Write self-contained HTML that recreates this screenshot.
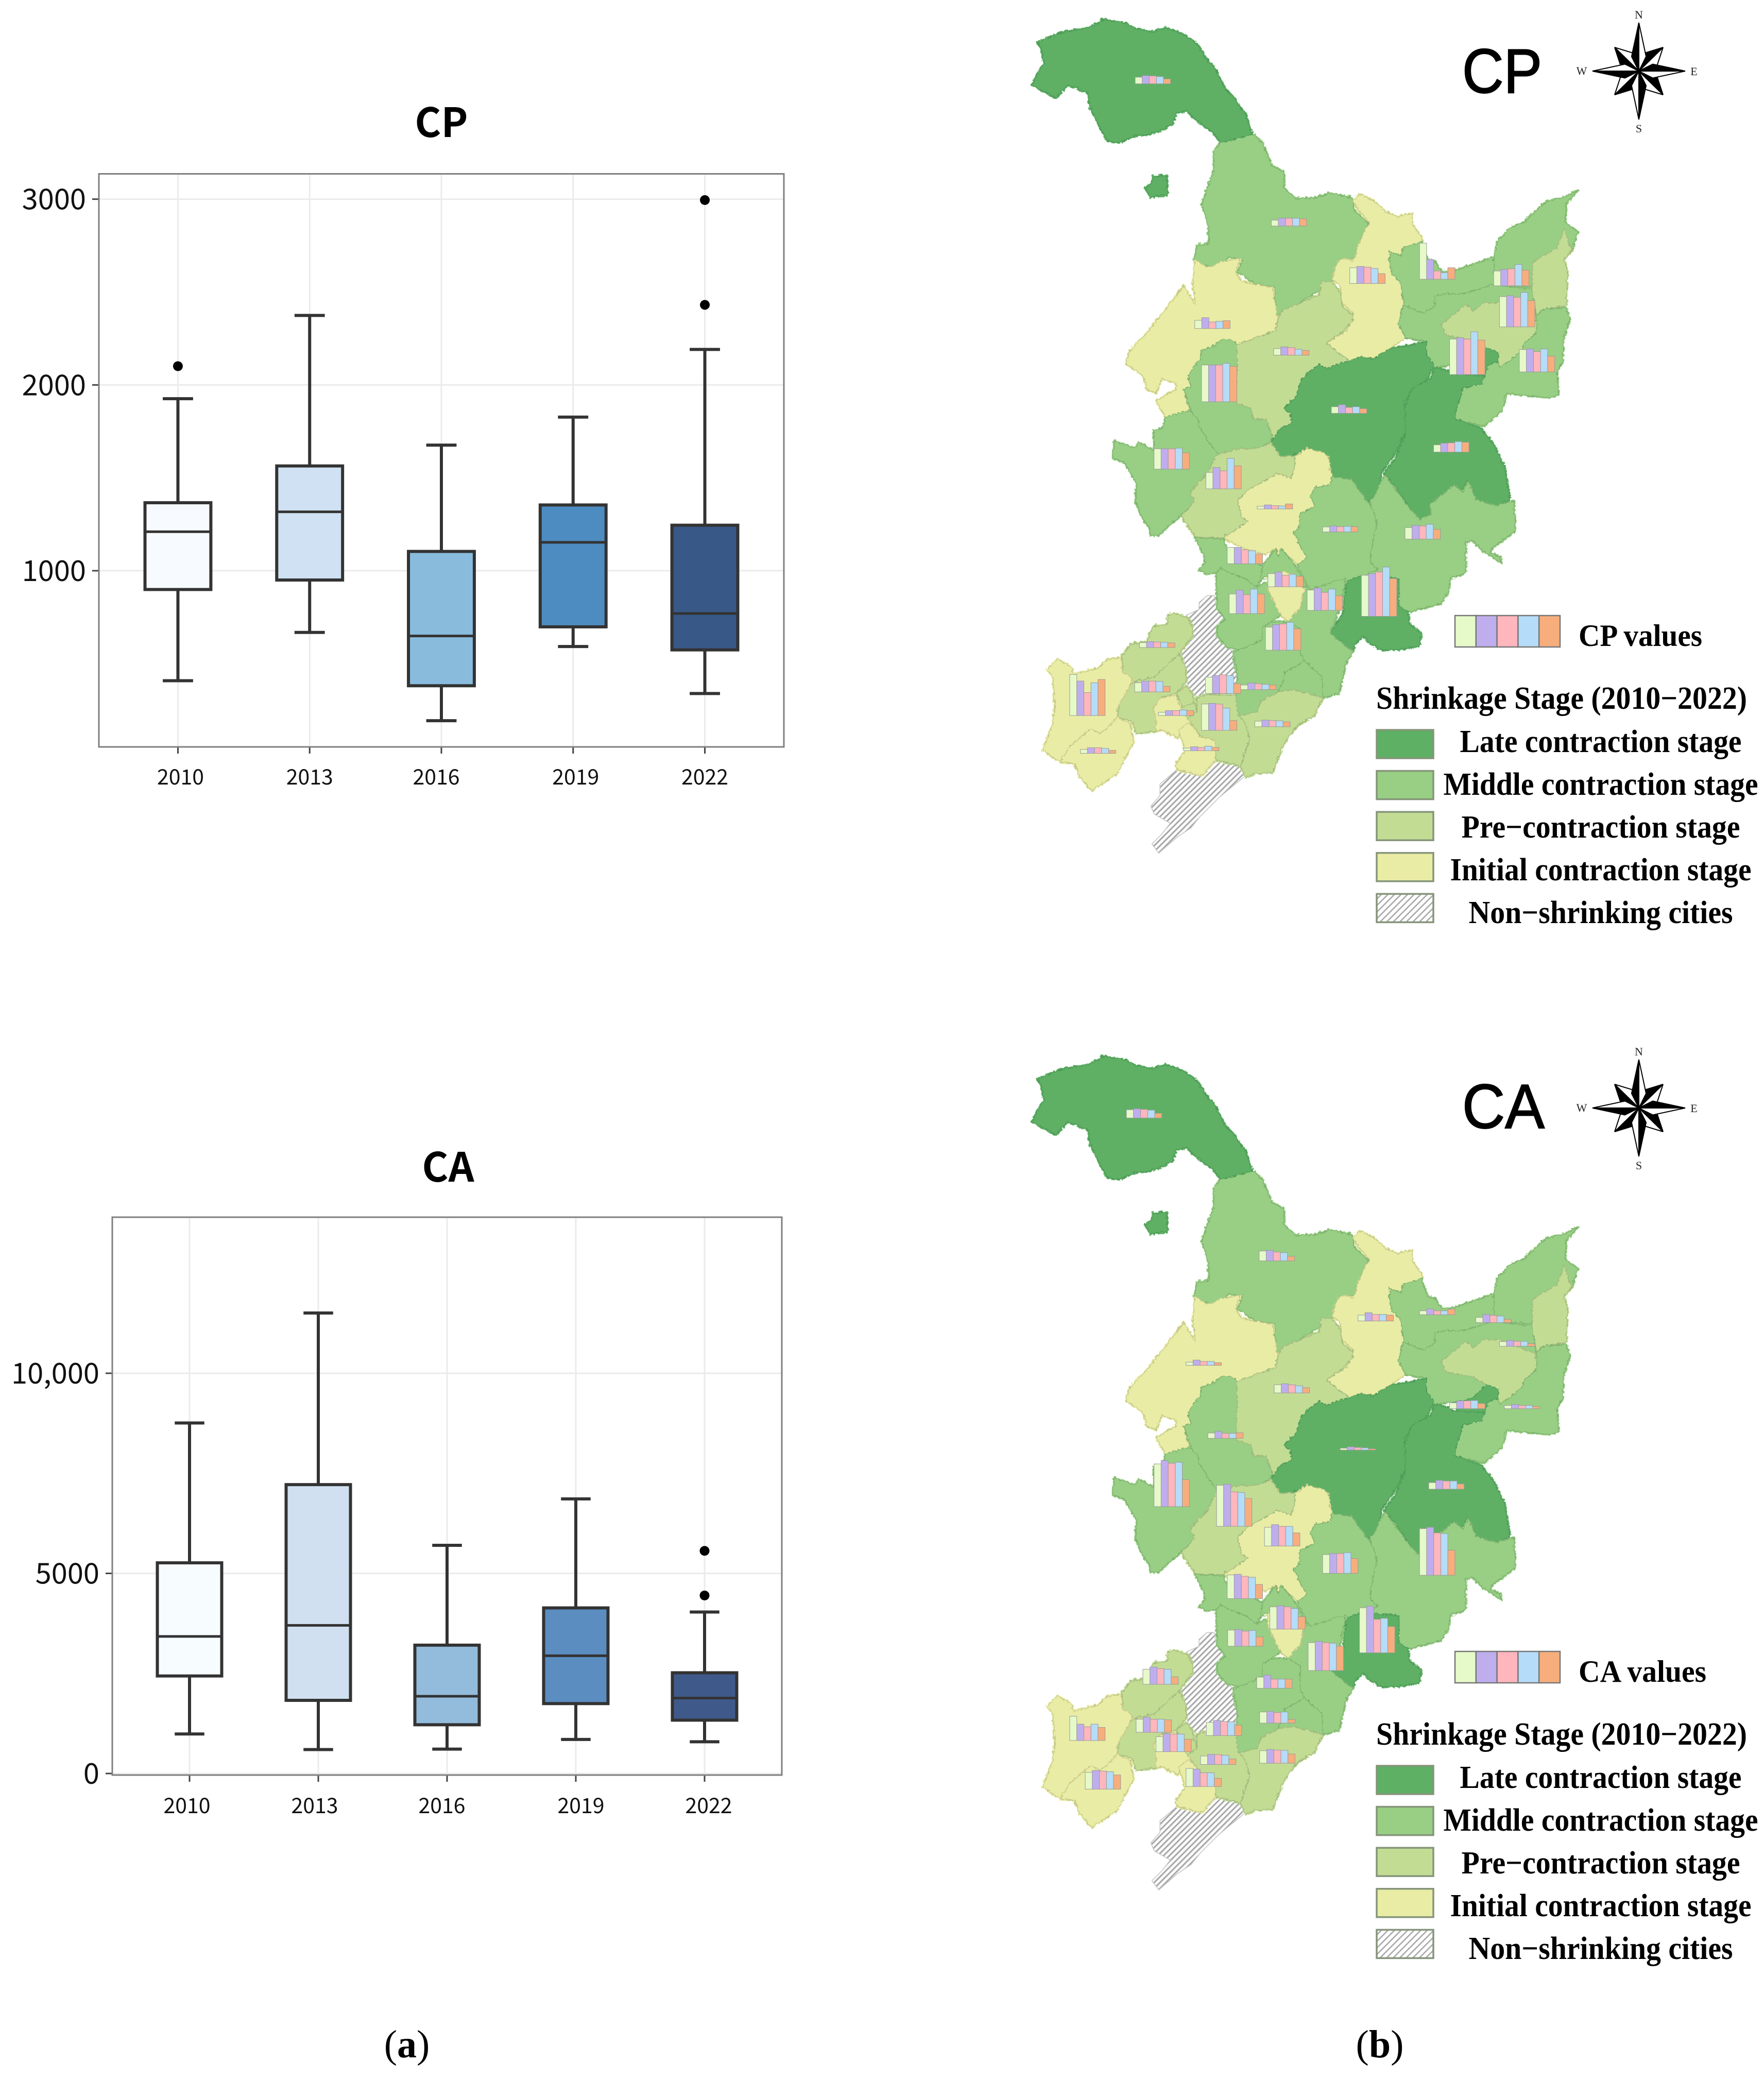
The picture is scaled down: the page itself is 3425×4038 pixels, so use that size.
<!DOCTYPE html>
<html lang="en">
<head>
<meta charset="utf-8">
<title>CP and CA shrinkage charts</title>
<style>
html,body{margin:0;padding:0;background:#fff;}
#stage{display:block;width:3425px;height:4038px;}
.sans{font-family:"Noto Sans CJK SC","Liberation Sans",sans-serif;}
.serif{font-family:"Liberation Serif",serif;}
.plain{font-family:"Liberation Sans",sans-serif;}
</style>
</head>
<body>
<svg id="stage" xmlns="http://www.w3.org/2000/svg" width="3425" height="4038" viewBox="0 0 3425 4038">
<defs>
<pattern id="hatch-map" patternUnits="userSpaceOnUse" width="8" height="8" patternTransform="rotate(-45)">
<rect width="8" height="8" fill="#fff"/><rect width="8" height="3.2" fill="#a9a9a9"/>
</pattern>
<pattern id="hatch-legend" patternUnits="userSpaceOnUse" width="9" height="9" patternTransform="rotate(-45)">
<rect width="9" height="9" fill="#fff"/><rect width="9" height="2.6" fill="#a9a9a9"/>
</pattern>
<filter id="rough-edge" x="-5%" y="-5%" width="110%" height="110%">
<feTurbulence type="turbulence" baseFrequency="0.12" numOctaves="2" seed="4" result="noise"/>
<feDisplacementMap in="SourceGraphic" in2="noise" scale="7" xChannelSelector="R" yChannelSelector="G"/>
</filter>
</defs>
<rect width="3425" height="4038" fill="#fff"/>
<text class="serif" x="790" y="3994" font-size="76" text-anchor="middle" fill="#000">(<tspan font-weight="700">a</tspan>)</text>
<text class="serif" x="2679" y="3994" font-size="76" text-anchor="middle" fill="#000">(<tspan font-weight="700">b</tspan>)</text>
</svg>
<script>
/* ---------- box plot data ---------- */
var categories = ['2010', '2013', '2016', '2019', '2022'];
var cpBoxFills = ['#f7fbff', '#cfe1f2', '#89bbdc', '#4d8cc1', '#385987'];
var caBoxFills = ['#f7fdff', '#d0e0f1', '#93bbdb', '#5b8dc0', '#3f5a8a'];

var cpTickValues = [1000, 2000, 3000];
var cpTickLabels = ['1000', '2000', '3000'];
var cpWhiskerLow = [408, 668, 193, 592, 339];
var cpQ1 = [899, 950, 381, 698, 574];
var cpMedian = [1210, 1317, 649, 1153, 770];
var cpQ3 = [1366, 1564, 1104, 1354, 1245];
var cpWhiskerHigh = [1926, 2374, 1676, 1827, 2191];
var cpOutliers = [[2101], [], [], [], [2431, 2995]];

var caTickValues = [0, 5000, 10000];
var caTickLabels = ['0', '5000', '10,000'];
var caWhiskerLow = [988, 598, 609, 851, 793];
var caQ1 = [2437, 1828, 1218, 1747, 1333];
var caMedian = [3425, 3701, 1931, 2943, 1885];
var caQ3 = [5264, 7218, 3207, 4138, 2517];
var caWhiskerHigh = [8758, 11505, 5701, 6862, 4034];
var caOutliers = [[], [], [], [], [4448, 5563]];

/* ---------- map mini bar data (one row per city, five periods) ---------- */
var periodColors = ['#e6f9c9', '#bfaeee', '#ffb6bc', '#b5dcf8', '#f7ae7c'];
var cityAnchorX = [270,551,713,857,1010,1022,393,556,919,1063,407,675,886,309,416,522,657,827,460,544,464,625,737,539,279,135,269,415,488,318,407,517,157,370];
var cpCityBase = [255,688,863,850,870,995,1000,1081,1140,1132,1223,1258,1376,1428,1488,1549,1619,1641,1716,1786,1868,1858,1876,1979,1971,2178,2106,2111,2099,2178,2223,2212,2293,2285];
var cpCityValues = [
[20,25,24,22,15],[18,24,24,24,22],[48,52,50,46,30],[110,60,25,20,35],[45,50,52,65,48],
[92,95,90,105,80],[25,33,20,22,24],[20,25,23,18,14],[108,112,108,130,105],[68,70,62,70,48],
[112,112,112,117,108],[20,26,18,20,14],[22,27,28,32,30],[62,62,62,64,50],[50,65,55,93,70],
[8,12,10,9,15],[15,18,16,17,16],[35,42,40,45,30],[50,50,43,40,30],[40,45,35,38,32],
[60,72,58,75,60],[62,68,55,65,45],[125,130,135,150,115],[70,78,80,85,65],[15,18,17,16,14],
[125,105,70,100,110],[28,33,33,32,17],[50,55,57,55,30],[14,20,18,16,14],[10,15,15,17,15],
[80,82,80,68,30],[17,20,19,18,15],[12,17,17,15,9],[8,12,10,14,10]
];
var caCityAnchorX = [252,526,730,857,973,1022,375,557,919,1032,420,693,876,309,438,537,657,857,460,548,461,627,733,521,286,135,272,417,527,313,405,527,167,375];
var caCityBase = [247,682,865,846,870,942,1000,1084,1132,1132,1222,1258,1377,1430,1490,1550,1633,1639,1710,1803,1855,1929,1875,1983,1971,2142,2117,2127,2089,2176,2215,2211,2290,2282];
var caCityValues = [
[25,28,26,24,14],[30,32,27,25,14],[18,25,20,20,18],[12,18,12,12,17],[16,25,22,20,10],
[14,18,15,15,8],[10,16,12,12,8],[25,28,25,22,16],[18,24,24,25,16],[10,13,10,10,7],
[16,21,15,15,17],[6,10,8,7,4],[20,27,25,25,16],[130,140,132,135,82],[125,128,105,103,85],
[57,65,60,60,40],[57,60,60,63,45],[142,146,129,127,76],[72,74,68,65,43],[68,71,68,63,38],
[49,51,46,48,28],[85,89,85,83,74],[137,142,102,105,80],[34,40,28,28,28],[46,53,48,46,23],
[74,50,42,50,40],[40,46,40,40,38],[40,46,43,42,32],[34,36,32,34,11],[46,55,54,54,38],
[26,31,30,28,17],[38,42,40,39,28],[51,57,55,53,43],[55,53,42,42,25]
];

/* ---------- base map outlines: stage, trace frame [originX, originY, scaleX, scaleY], outline ---------- */
var stageFill = {late:'#5eb065', mid:'#98cf84', pre:'#c3dc94', ini:'#e9eca4', non:'url(#hatch-map)'};
var stageEdge = {late:'#4f9c58', mid:'#7fb26f', pre:'#a3bb7e', ini:'#c6c98a', non:'#c4c4c4'};
var frameN = [1950, 0, 1.063, 1.568];
var frameA = [2000, 1000, 2.24, 2.24];
var frameB = [2450, 350, 2.24, 2.24];
var frameC = [2100, 500, 2.24, 2.24];
var frameD = [2450, 850, 2.613, 2.613];
var regionShapes = [
['mid',frameN,'445,430 510,405 530,430 550,500 575,520 575,570 600,603 640,600 670,585 715,600 722,640 750,675 735,720 725,780 690,800 680,850 650,880 600,925 575,945 560,960 555,870 515,860 480,825 490,785 460,780 445,810 420,810 390,790 395,745 420,740 420,680 405,620 430,520 430,460'],
['late',frameN,'67,125 120,95 175,80 205,57 240,65 270,85 305,95 330,82 365,100 395,130 415,175 435,210 450,260 475,300 495,345 510,405 480,420 445,430 425,395 400,370 375,335 355,340 345,375 320,395 300,405 270,410 235,432 210,425 195,385 175,320 170,280 130,255 105,295 55,255 80,190 75,150'],
['late',frameN,'305,535 333,532 335,590 300,598 288,570 302,555'],
['ini',frameB,'390,85 425,58 490,90 530,130 585,155 650,140 650,190 690,240 695,262 610,290 600,325 555,305 550,350 560,400 600,445 612,530 590,620 620,680 560,720 480,775 430,760 375,785 280,705 365,650 395,600 390,570 345,530 335,450 300,430 325,350 360,335 395,350 415,280 440,220 465,180 420,130'],
['ini',frameC,'490,5 545,40 600,15 690,0 665,55 690,100 825,125 838,200 850,260 840,315 670,375 660,360 610,350 575,380 515,400 510,440 465,500 460,520 470,560 440,570 465,660 440,675 360,690 320,620 350,600 405,570 410,545 345,520 320,585 280,570 265,510 190,460 200,410 300,300 440,120 490,200 480,100'],
['mid',frameC,'610,350 660,360 670,375 672,460 670,630 730,650 745,700 800,700 825,780 810,800 775,820 710,830 690,825 590,850 550,800 515,740 500,700 470,660 440,570 470,560 460,520 465,500 510,440 515,400 575,380'],
['mid',frameC,'360,690 470,660 500,700 515,740 550,800 590,850 560,900 545,935 470,1015 490,1055 430,1115 330,1205 295,1205 290,1170 250,1110 230,1050 235,980 185,890 130,865 140,795 230,825 245,800 310,835 310,750 350,735'],
['pre',frameC,'1040,100 1085,100 1120,150 1130,210 1175,245 1175,270 1130,320 1060,370 1160,445 1100,465 1060,480 1030,460 990,490 950,530 930,600 875,650 905,680 910,715 860,740 830,785 800,700 745,700 730,650 670,630 672,460 670,375 840,315 850,260 870,225 1000,170 1030,160'],
['mid',frameB,'690,265 715,340 750,350 780,395 830,390 860,380 1005,330 1005,450 965,460 870,490 800,490 745,500 750,540 700,575 615,540 600,445 560,400 550,350 555,305 600,325 610,290'],
['mid',frameB,'1370,40 1320,95 1315,180 1370,220 1345,300 1310,205 1280,290 1175,350 1170,460 1005,450 1005,330 1020,265 1075,205 1140,175 1230,90 1310,70'],
['pre',frameB,'1310,205 1345,300 1310,340 1325,400 1320,540 1210,560 1190,590 1170,470 1175,350 1280,290'],
['mid',frameB,'745,500 800,490 870,490 965,460 1005,450 1170,470 1190,600 1030,530 960,530 915,565 885,535 775,625 800,670 910,690 975,725 900,790 830,800 740,810 695,760 710,695 620,680 590,620 612,530 615,540 700,575 750,540'],
['pre',frameB,'885,535 915,565 960,530 1030,530 1190,590 1190,660 1140,700 1125,735 1090,770 1030,810 1020,785 1025,745 975,725 910,690 800,670 775,625'],
['mid',frameB,'1210,560 1320,548 1335,600 1310,680 1305,780 1280,830 1285,930 1250,940 1070,925 1060,920 1040,1000 960,1065 840,1035 840,1000 870,900 955,880 985,795 1022,785 1030,810 1090,770 1125,735 1140,700 1190,660 1190,590'],
['late',frameB,'975,725 1025,745 1022,785 985,795 965,850 850,850 830,800 900,790'],
['late',frameC,'1060,480 1100,465 1160,445 1210,425 1260,440 1340,390 1440,375 1495,360 1495,420 1530,460 1500,520 1400,620 1410,740 1370,830 1300,930 1280,1040 1240,1060 1170,960 1085,950 1070,860 1030,840 975,825 915,860 860,860 820,800 830,785 860,740 910,715 905,680 875,650 930,600 950,530 990,490 1030,460'],
['late',frameB,'730,860 750,810 820,830 820,840 960,845 955,880 870,900 840,1000 840,1035 950,1075 1000,1140 1050,1240 1075,1385 1020,1415 930,1385 890,1300 860,1355 830,1320 730,1420 725,1460 670,1470 640,1420 570,1320 530,1270 580,1200 620,1100 620,980 650,900'],
['ini',frameC,'925,865 975,825 1030,840 1070,860 1085,950 1080,985 1010,995 990,1030 1010,1080 945,1110 945,1170 920,1190 945,1250 975,1300 935,1330 865,1265 850,1300 845,1260 790,1290 770,1280 700,1260 610,1215 720,1145 690,1125 675,1050 730,1000 850,935 905,955 920,920'],
['pre',frameC,'820,800 860,860 915,860 925,865 920,920 905,955 850,935 730,1000 675,1050 690,1125 720,1145 610,1215 490,1210 430,1120 490,1055 470,1015 545,935 560,900 590,850 690,825 710,830 775,820'],
['mid',frameC,'1085,950 1170,960 1240,1060 1250,1065 1285,1150 1250,1300 1280,1340 1320,1355 1190,1385 1130,1440 990,1440 945,1360 935,1330 975,1300 945,1250 920,1190 945,1170 945,1110 1010,1080 990,1030 1010,995 1080,985'],
['mid',frameD,'625,185 660,240 760,370 800,410 850,385 850,330 970,235 1015,270 1045,215 1085,310 1190,340 1275,315 1280,470 1250,490 1170,550 1150,575 1205,600 1210,630 1165,600 1120,570 1060,515 1030,525 1030,680 950,710 940,780 905,835 735,880 690,845 685,720 500,700 430,720 415,745 585,660 545,630 550,560 580,420 545,325 590,240'],
['late',frameD,'430,720 500,695 690,710 690,845 735,880 745,940 805,990 795,1050 690,1070 600,1070 560,1050 510,1000 470,1040 445,1100 420,1100 400,1030 340,990 410,880 415,800'],
['mid',frameA,'715,95 835,100 855,145 1005,215 1000,275 980,310 930,270 870,250 825,225 805,245 760,250 730,235 760,205 750,165'],
['mid',frameA,'1005,215 1065,140 1075,175 1090,140 1150,220 1200,310 1100,305 1040,260 1000,275'],
['mid',frameA,'805,245 825,225 870,250 930,270 980,310 1020,290 1035,310 1060,380 1085,430 1040,460 1005,490 1005,540 960,560 905,580 850,570 810,520 810,480 845,450 810,400'],
['mid',frameA,'1190,320 1210,320 1370,270 1345,400 1300,510 1400,590 1370,640 1340,770 1270,790 1265,700 1190,630 1170,600 1170,490 1120,460 1170,400'],
['ini',frameA,'1030,270 1040,255 1100,240 1130,250 1190,320 1170,400 1120,460 1085,430 1060,380 1030,320'],
['mid',frameA,'880,590 905,580 960,560 1005,540 1005,490 1040,460 1120,460 1170,490 1170,600 1190,630 1105,680 1095,720 1070,770 1000,805 985,850 905,870 890,780 900,700 890,650'],
['mid',frameA,'1105,680 1190,630 1265,700 1270,790 1200,770 1135,755 1075,765 1095,720'],
['pre',frameA,'985,850 1000,805 1075,765 1135,755 1200,770 1270,790 1230,870 1160,910 1100,990 1050,1115 975,1120 935,1135 910,1090 930,1030 950,970 930,900 905,870'],
['non',frameA,'735,380 770,350 800,350 810,400 845,450 810,480 810,520 850,570 880,590 890,650 900,700 890,780 770,775 720,800 710,810 680,720 670,650 645,600 705,520 705,490 680,435 735,410'],
['pre',frameA,'720,790 770,775 890,780 905,870 930,900 950,970 930,1030 910,1085 855,1075 810,1065 800,1000 800,975 740,960 700,900 680,880 720,850'],
['pre',frameA,'595,430 625,425 680,440 705,490 705,520 645,600 590,650 540,700 450,720 400,680 395,610 430,560 505,545 530,480 595,470'],
['pre',frameA,'450,720 540,700 590,650 645,600 670,650 675,720 630,770 560,790 530,840 545,880 545,935 460,945 435,890 375,875 385,810 410,750'],
['pre',frameA,'630,770 675,740 705,780 710,810 660,830 640,790'],
['pre',frameA,'660,830 710,810 720,850 680,880 650,830'],
['ini',frameA,'530,840 560,790 630,780 650,830 680,880 700,900 660,920 640,965 600,950 570,930 545,935 545,880'],
['ini',frameA,'690,895 735,960 800,975 805,1065 790,1070 750,1130 640,1105 630,1080 670,1020 640,930'],
['non',frameA,'810,1065 855,1075 910,1090 935,1135 880,1180 820,1230 740,1310 700,1360 640,1400 560,1470 530,1430 570,1390 610,1340 540,1300 525,1265 565,1220 565,1170 635,1110 750,1130'],
['ini',frameA,'115,620 180,660 185,690 295,660 330,625 390,615 400,680 445,710 375,835 375,875 335,920 300,945 260,925 170,1000 125,1070 50,1020 95,900 105,830 95,700 70,670'],
['ini',frameA,'125,1070 170,1000 260,925 300,945 335,920 375,875 435,905 445,985 375,1120 265,1195 210,1130 190,1075']
];

var legendStages = ['late', 'mid', 'pre', 'ini', 'non'];
var legendLabels = ['Late contraction stage', 'Middle contraction stage', 'Pre\u2212contraction stage', 'Initial contraction stage', 'Non\u2212shrinking cities'];
var legendWidths = [547, 611, 541, 585, 513];
var legendNames = ['late-stage', 'middle-stage', 'pre-stage', 'initial-stage', 'non-shrinking'];

var SVGNS = 'http://www.w3.org/2000/svg';
var stage = document.getElementById('stage');
function mk(tag, parent, attrs) {
  var el = document.createElementNS(SVGNS, tag);
  for (var k in attrs) el.setAttribute(k, attrs[k]);
  parent.appendChild(el);
  return el;
}

/* ---------- box plot ---------- */
function drawBoxPlot(o) {
  var g = mk('g', stage, {});
  
  
  var step = (o.right - o.left) / 5.2;
  function xScale(i) { return o.left + step * (0.6 + i); }
  function yScale(v) { return o.y0 - (v - o.v0) * o.pxPerUnit; }
  var boxW = step * 0.5, capW = step * 0.23;

  var title = mk('text', g, {'class':'sans', x:o.titleX, y:o.titleY, 'font-size':78, 'font-weight':700, 'text-anchor':'middle', fill:'#000'});
  title.textContent = o.title;
  
  

  o.tickValues.forEach(function (v, i) {
    var gl = mk('line', g, {x1:o.left, x2:o.right, y1:yScale(v), y2:yScale(v), stroke:'#ebebeb', 'stroke-width':3});
    
    
    var tk = mk('line', g, {x1:o.left - 13, x2:o.left, y1:yScale(v), y2:yScale(v), stroke:'#444', 'stroke-width':3});
    
    
    var lb = mk('text', g, {'class':'sans', x:o.left - 25, y:yScale(v) + 20, 'font-size':56, 'text-anchor':'end', fill:'#111'});
    lb.textContent = o.tickLabels[i];
    
    
  });
  categories.forEach(function (c, i) {
    var gl = mk('line', g, {x1:xScale(i), x2:xScale(i), y1:o.top, y2:o.bottom, stroke:'#ebebeb', 'stroke-width':3});
    
    
    var tk = mk('line', g, {x1:xScale(i), x2:xScale(i), y1:o.bottom, y2:o.bottom + 13, stroke:'#444', 'stroke-width':3});
    
    
    var lb = mk('text', g, {'class':'sans', x:xScale(i) + o.labelNudge[i], y:o.labelY, 'font-size':41, 'text-anchor':'middle', fill:'#111'});
    lb.textContent = c;
    
    
  });
  var frame = mk('rect', g, {x:o.left, y:o.top, width:o.right - o.left, height:o.bottom - o.top, fill:'none', stroke:'#7f7f7f', 'stroke-width':3});
  
  

  categories.forEach(function (c, i) {
    var x = xScale(i), s = {stroke:'#333', 'stroke-width':6, fill:'none'};
    var w = mk('path', g, Object.assign({d:'M' + x + ' ' + yScale(o.hi[i]) + 'V' + yScale(o.q3[i]) + 'M' + x + ' ' + yScale(o.q1[i]) + 'V' + yScale(o.lo[i]) +
      'M' + (x - capW / 2) + ' ' + yScale(o.hi[i]) + 'H' + (x + capW / 2) + 'M' + (x - capW / 2) + ' ' + yScale(o.lo[i]) + 'H' + (x + capW / 2)}, s));
    
    
    var b = mk('rect', g, {x:x - boxW / 2, y:yScale(o.q3[i]), width:boxW, height:yScale(o.q1[i]) - yScale(o.q3[i]), fill:o.fills[i], stroke:'#333', 'stroke-width':6});
    
    
    var m = mk('line', g, {x1:x - boxW / 2, x2:x + boxW / 2, y1:yScale(o.med[i]), y2:yScale(o.med[i]), stroke:'#333', 'stroke-width':5});
    
    
    o.out[i].forEach(function (v) {
      var p = mk('circle', g, {cx:x, cy:yScale(v), r:9.5, fill:'#000'});
      
      
    });
  });
}

drawBoxPlot({name:'cp', title:'CP', titleX:857, titleY:266, left:192, right:1522, top:337.5, bottom:1450, y0:1108, v0:1000, pxPerUnit:0.3607,
  labelY:1523, labelNudge:[5, 0, -10, 5, 0], fills:cpBoxFills, tickValues:cpTickValues, tickLabels:cpTickLabels, lo:cpWhiskerLow, q1:cpQ1, med:cpMedian, q3:cpQ3, hi:cpWhiskerHigh, out:cpOutliers});
drawBoxPlot({name:'ca', title:'CA', titleX:870, titleY:2294, left:218, right:1518, top:2363, bottom:3446, y0:3443, v0:0, pxPerUnit:0.0777,
  labelY:3520, labelNudge:[-5, -7, -10, 10, 8], fills:caBoxFills, tickValues:caTickValues, tickLabels:caTickLabels, lo:caWhiskerLow, q1:caQ1, med:caMedian, q3:caQ3, hi:caWhiskerHigh, out:caOutliers});

/* ---------- map panel ---------- */
function drawCompass(g, cx, cy) {
  var long = [[0, -94], [90, 0], [0, 94], [-90, 0]];
  var diag = [[-47, -46], [47, -46], [47, 46], [-47, 46]];
  function pts(a, b) { return cx + ',' + cy + ' ' + (cx + a[0]) + ',' + (cy + a[1]) + ' ' + (cx + b[0]) + ',' + (cy + b[1]); }
  diag.forEach(function (d) {
    var lx = -d[1] * 0.3, ly = d[0] * 0.3;
    var s1 = [d[0] * 0.42 + lx, d[1] * 0.42 + ly], s2 = [d[0] * 0.42 - lx, d[1] * 0.42 - ly];
    mk('polygon', g, {points:pts(d, s1), fill:'#fff', stroke:'#000', 'stroke-width':2});
    mk('polygon', g, {points:pts(d, s2), fill:'#000', stroke:'#000', 'stroke-width':2});
  });
  long.forEach(function (d) {
    var lx = -d[1] * 0.15, ly = d[0] * 0.15;
    var s1 = [d[0] * 0.3 + lx, d[1] * 0.3 + ly], s2 = [d[0] * 0.3 - lx, d[1] * 0.3 - ly];
    mk('polygon', g, {points:pts(d, s1), fill:'#fff', stroke:'#000', 'stroke-width':2});
    mk('polygon', g, {points:pts(d, s2), fill:'#000', stroke:'#000', 'stroke-width':2});
  });
  [['N', 0, -102], ['E', 107, 8], ['S', 0, 119], ['W', -111, 7]].forEach(function (l) {
    var t = mk('text', g, {'class':'serif', x:cx + l[1], y:cy + l[2], 'font-size':22, 'text-anchor':'middle', fill:'#222'});
    t.textContent = l[0];
    
    
  });
}

function regionPoints(r) {
  var f = r[1];
  return r[2].split(' ').map(function (p) {
    var a = p.split(',');
    return (f[0] + a[0] / f[2]).toFixed(1) + ',' + (f[1] + a[1] / f[3]).toFixed(1);
  }).join(' ');
}

function drawMapPanel(o) {
  var panel = mk('g', stage, {});
  
  

  var hatched = mk('g', panel, {transform:'translate(0,' + o.offset + ')'});
  
  
  regionShapes.forEach(function (r) {
    if (r[0] === 'non') {
      var area = mk('polygon', hatched, {points:regionPoints(r), fill:stageFill.non, stroke:stageEdge.non, 'stroke-width':1.5, 'stroke-linejoin':'round'});
      
      
    }
  });

  var base = mk('g', panel, {transform:'translate(0,' + o.offset + ')', filter:'url(#rough-edge)'});
  
  
  regionShapes.forEach(function (r) {
    if (r[0] !== 'non') {
      var under = mk('polygon', base, {points:regionPoints(r), fill:stageFill[r[0]], stroke:stageFill[r[0]], 'stroke-width':5, 'stroke-linejoin':'round'});
      
      
    }
  });
  regionShapes.forEach(function (r) {
    if (r[0] !== 'non') {
      var poly = mk('polygon', base, {points:regionPoints(r), fill:stageFill[r[0]], stroke:stageEdge[r[0]], 'stroke-width':1.8, 'stroke-linejoin':'round'});
      
      
    }
  });

  var bars = mk('g', panel, {transform:'translate(1950,' + o.offset + ') scale(0.9407,0.6378)'});
  
  
  var barW = 14.6;
  function barHeight(v) { return v; }
  o.values.forEach(function (row, c) {
    var city = mk('g', bars, {});
    
    
    row.forEach(function (v, i) {
      var h = barHeight(v);
      var bar = mk('rect', city, {x:o.anchors[c] + i * barW, y:o.bases[c] - h, width:barW, height:h, fill:periodColors[i], stroke:'#9a9a9a', 'stroke-width':1, 'vector-effect':'non-scaling-stroke'});
      
      
    });
  });

  var dy = o.legendShift;
  var big = mk('text', panel, {'class':'plain', x:2839, y:o.bigY, 'font-size':122, fill:'#000', stroke:'#000', 'stroke-width':2, textLength:o.bigW, lengthAdjust:'spacingAndGlyphs'});
  big.textContent = o.label;
  
  

  var comp = mk('g', panel, {});
  
  
  drawCompass(comp, 3182, o.compassY);

  periodColors.forEach(function (col, i) {
    var s = mk('rect', panel, {x:2825 + i * 40.8, y:1195 + dy, width:40.8, height:61, fill:col, stroke:'#777', 'stroke-width':2.5});
    
    
  });
  var vt = mk('text', panel, {'class':'serif', x:3065, y:1254 + dy, 'font-size':60, 'font-weight':700, fill:'#000', textLength:o.valuesW, lengthAdjust:'spacingAndGlyphs'});
  vt.textContent = o.label + ' values';
  
  

  var lt = mk('text', panel, {'class':'serif', x:2672, y:1376 + dy, 'font-size':62, 'font-weight':700, fill:'#000', textLength:720, lengthAdjust:'spacingAndGlyphs'});
  lt.textContent = 'Shrinkage Stage (2010\u22122022)';
  
  

  legendLabels.forEach(function (txt, i) {
    var fill = legendStages[i] === 'non' ? 'url(#hatch-legend)' : stageFill[legendStages[i]];
    var top = 1417 + i * 79.6 + dy;
    var sw = mk('rect', panel, {x:2673, y:top, width:110, height:55, fill:fill, stroke:'#86957a', 'stroke-width':3.5});
    
    
    var tx = mk('text', panel, {'class':'serif', x:3108, y:1460 + i * 83 + dy, 'font-size':62, 'font-weight':700, 'text-anchor':'middle', fill:'#000', textLength:legendWidths[i], lengthAdjust:'spacingAndGlyphs'});
    tx.textContent = txt;
    
    
  });
}

drawMapPanel({name:'cp', label:'CP', offset:0, anchors:cityAnchorX, bases:cpCityBase, values:cpCityValues, legendShift:0, bigY:180, bigW:155, valuesW:240, compassY:138});
drawMapPanel({name:'ca', label:'CA', offset:2012.8, anchors:caCityAnchorX, bases:caCityBase, values:caCityValues, legendShift:2011, bigY:2190, bigW:160, valuesW:248, compassY:2151});
</script>
</body>
</html>
